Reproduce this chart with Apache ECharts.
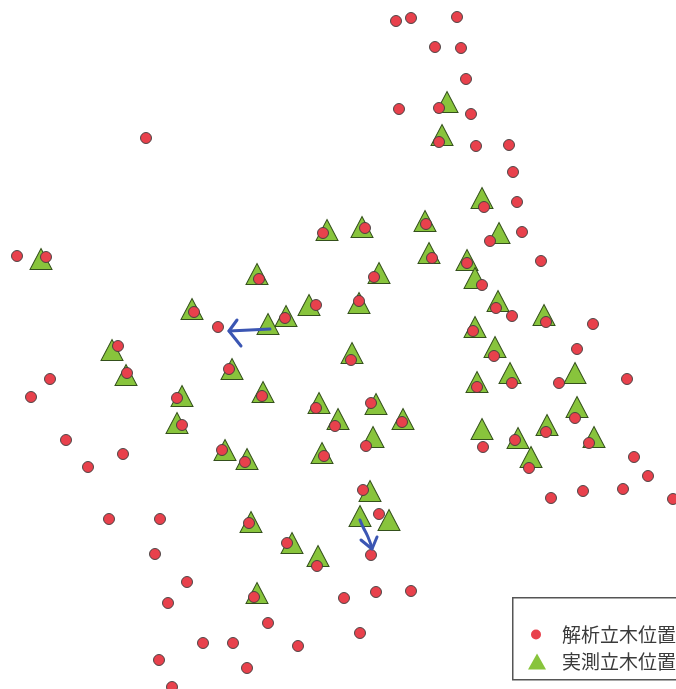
<!DOCTYPE html>
<html>
<head>
<meta charset="utf-8">
<script src="https://cdn.jsdelivr.net/npm/echarts@6/dist/echarts.min.js"></script>
<style>
  html, body { margin: 0; padding: 0; background: #fff; }
  #chart { width: 676px; height: 689px; }
</style>
</head>
<body>
<div id="chart"></div>
<script>
// Plot extent in local grid units (x to the right, y downward)
const extentX = [0, 676];
const extentY = [0, 689];

// Tree positions detected by the analysis
const analysedTrees = [
  [396,21],[411,18],[457,17],[435,47],[461,48],[466,79],[399,109],[439,108],[471,114],
  [146,138],[439,142],[476,146],[509,145],[513,172],[517,202],[484,207],[426,224],[365,228],
  [323,233],[522,232],[490,241],[17,256],[46,257],[432,258],[467,263],[541,261],[374,277],
  [259,279],[482,285],[359,301],[316,305],[496,308],[194,312],[512,316],[285,318],[546,322],
  [593,324],[218,327],[473,331],[118,346],[577,349],[494,356],[351,360],[229,369],[127,373],
  [50,379],[627,379],[512,383],[559,383],[477,387],[262,396],[177,398],[31,397],[371,403],
  [316,408],[575,418],[402,422],[182,425],[335,426],[546,432],[66,440],[515,440],[589,443],
  [366,446],[483,447],[222,450],[123,454],[324,456],[634,457],[245,462],[88,467],[529,468],
  [648,476],[363,490],[623,489],[583,491],[551,498],[673,499],[379,514],[109,519],[160,519],
  [249,523],[287,543],[155,554],[371,555],[317,566],[187,582],[411,591],[376,592],[254,597],
  [344,598],[168,603],[268,623],[360,633],[203,643],[233,643],[298,646],[159,660],[247,668],
  [172,687]
];

// Tree positions measured in the field survey
const surveyedTrees = [
  [447,102],[442,135],[482,198],[425,221],[362,227],[327,230],[499,233],[41,259],[429,253],
  [467,260],[257,274],[379,273],[475,278],[359,303],[498,301],[309,305],[192,309],[286,316],
  [544,315],[268,324],[475,327],[495,347],[112,350],[352,353],[232,369],[575,373],[510,373],
  [126,375],[477,382],[263,392],[182,396],[319,403],[376,404],[577,407],[338,419],[403,419],
  [177,423],[547,425],[482,429],[373,437],[594,437],[518,438],[225,450],[322,453],[531,457],
  [247,459],[370,491],[360,516],[389,520],[251,522],[292,543],[318,556],[257,593]
];

// Displacement arrows (shaft and head strokes)
const arrowWestShaft = [[270,329],[250,330],[229,331]];
const arrowWestHead = [[237,320],[229,331],[241,346]];
const arrowSouthShaft = [[360,520],[363,527],[368,537],[372,548]];
const arrowSouthHead = [[361,540],[372,549],[377,537]];

const seriesNames = ['解析立木位置', '実測立木位置'];

const arrowColor = '#3b56b3';
function arrowSeries(points, smooth) {
  return {
    type: 'line',
    data: points,
    smooth: smooth,
    symbol: 'none',
    silent: true,
    clip: false,
    lineStyle: { color: arrowColor, width: 3, cap: 'round', join: 'round' },
    z: 4
  };
}

const legendText = { fontSize: 19, color: '#3a3a3a', fontFamily: 'Noto Sans CJK JP' };

const chart = echarts.init(document.getElementById('chart'), null, { renderer: 'canvas' });
chart.setOption({
  animation: false,
  backgroundColor: '#ffffff',
  grid: { left: 0, right: 0, top: 0, bottom: 0 },
  xAxis: { type: 'value', min: extentX[0], max: extentX[1], show: false },
  yAxis: { type: 'value', min: extentY[0], max: extentY[1], inverse: true, show: false },
  legend: [
    {
      data: [seriesNames[0]],
      orient: 'vertical',
      left: 531, top: 625,
      padding: 0,
      itemWidth: 10, itemHeight: 10,
      itemStyle: { borderWidth: 0 },
      textStyle: Object.assign({ padding: [0, 0, 0, 16] }, legendText)
    },
    {
      data: [seriesNames[1]],
      orient: 'vertical',
      left: 528, top: 652,
      padding: 0,
      itemWidth: 18, itemHeight: 16,
      itemStyle: { borderWidth: 0 },
      textStyle: Object.assign({ padding: [0, 0, 0, 11] }, legendText)
    }
  ],
  graphic: [
    {
      type: 'rect',
      left: 512, top: 597,
      shape: { width: 200, height: 82 },
      style: { fill: 'rgba(255,255,255,0)', stroke: '#555555', lineWidth: 1.5 },
      z: 0, silent: true
    }
  ],
  series: [
    {
      name: seriesNames[1],
      type: 'scatter',
      data: surveyedTrees,
      symbol: 'triangle',
      symbolSize: [22, 21],
      clip: false,
      itemStyle: { color: '#88c43c', borderColor: '#34501c', borderWidth: 1, opacity: 1 },
      z: 2
    },
    {
      name: seriesNames[0],
      type: 'scatter',
      data: analysedTrees,
      symbol: 'circle',
      symbolSize: 11,
      clip: false,
      itemStyle: { color: '#e8414c', borderColor: '#3c3c3c', borderWidth: 0.9, opacity: 1 },
      z: 3
    },
    arrowSeries(arrowWestShaft, false),
    arrowSeries(arrowWestHead, false),
    arrowSeries(arrowSouthShaft, true),
    arrowSeries(arrowSouthHead, false)
  ]
});
</script>
</body>
</html>
